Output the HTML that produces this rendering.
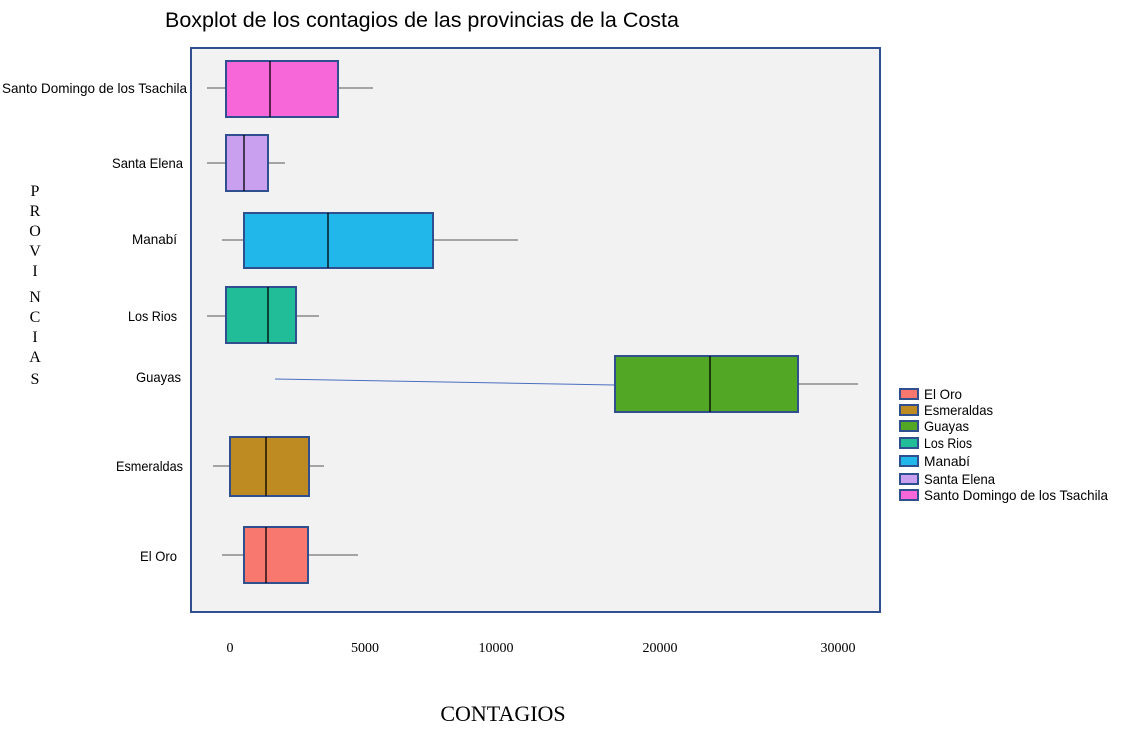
<!DOCTYPE html>
<html><head><meta charset="utf-8"><style>body{margin:0;background:#fff}svg{display:block}</style></head><body>
<svg width="1122" height="756" xmlns="http://www.w3.org/2000/svg">
<text x="422" y="27" text-anchor="middle" font-family="Liberation Sans, sans-serif" font-size="21" fill="#000" textLength="514" lengthAdjust="spacingAndGlyphs">Boxplot de los contagios de las provincias de la Costa</text>
<rect x="191" y="48" width="689" height="564" fill="#f2f2f2" stroke="#2f4f8f" stroke-width="2"/>
<g stroke="#555" stroke-width="1">
<line x1="207" y1="88" x2="226" y2="88"/><line x1="338" y1="88" x2="373" y2="88"/>
<line x1="207" y1="163" x2="226" y2="163"/><line x1="268" y1="163" x2="285" y2="163"/>
<line x1="222" y1="240" x2="244" y2="240"/><line x1="433" y1="240" x2="518" y2="240"/>
<line x1="207" y1="316" x2="226" y2="316"/><line x1="296" y1="316" x2="319" y2="316"/>
<line x1="798" y1="384" x2="858" y2="384"/>
<line x1="213" y1="466" x2="230" y2="466"/><line x1="309" y1="466" x2="324" y2="466"/>
<line x1="222" y1="555" x2="244" y2="555"/><line x1="308" y1="555" x2="358" y2="555"/>
</g>
<line x1="275" y1="379" x2="615" y2="385" stroke="#4a6fc0" stroke-width="1"/>
<g stroke="#2f4f8f" stroke-width="2">
<rect x="226" y="61" width="112" height="56" fill="#f767d9"/>
<rect x="226" y="135" width="42" height="56" fill="#c9a0f0"/>
<rect x="244" y="213" width="189" height="55" fill="#21b7eb"/>
<rect x="226" y="287" width="70" height="56" fill="#21bd98"/>
<rect x="615" y="356" width="183" height="56" fill="#52a824"/>
<rect x="230" y="437" width="79" height="59" fill="#bd8b22"/>
<rect x="244" y="527" width="64" height="56" fill="#f87870"/>
</g>
<g stroke="#000" stroke-width="1.3">
<line x1="270" y1="61" x2="270" y2="117"/><line x1="244" y1="135" x2="244" y2="191"/>
<line x1="328" y1="213" x2="328" y2="268"/><line x1="268" y1="287" x2="268" y2="343"/>
<line x1="710" y1="356" x2="710" y2="412"/><line x1="266" y1="437" x2="266" y2="496"/>
<line x1="266" y1="527" x2="266" y2="583"/>
</g>
<g font-family="Liberation Sans, sans-serif" font-size="14" fill="#000" lengthAdjust="spacingAndGlyphs">
<text x="2" y="93" textLength="185" lengthAdjust="spacingAndGlyphs">Santo Domingo de los Tsachila</text>
<text x="112" y="168" textLength="71" lengthAdjust="spacingAndGlyphs">Santa Elena</text>
<text x="132" y="244" textLength="45" lengthAdjust="spacingAndGlyphs">Manabí</text>
<text x="128" y="321" textLength="49" lengthAdjust="spacingAndGlyphs">Los Rios</text>
<text x="136" y="382" textLength="45" lengthAdjust="spacingAndGlyphs">Guayas</text>
<text x="116" y="471" textLength="67" lengthAdjust="spacingAndGlyphs">Esmeraldas</text>
<text x="140" y="561" textLength="37" lengthAdjust="spacingAndGlyphs">El Oro</text>
</g>
<g font-family="Liberation Serif, serif" font-size="14" text-anchor="middle" fill="#000">
<text x="230" y="652">0</text><text x="365" y="652">5000</text><text x="496" y="652">10000</text>
<text x="660" y="652">20000</text><text x="838" y="652">30000</text>
</g>
<text x="503" y="721" text-anchor="middle" font-family="Liberation Serif, serif" font-size="22">CONTAGIOS</text>
<g font-family="Liberation Serif, serif" font-size="16" text-anchor="middle">
<text x="35" y="196">P</text><text x="35" y="216">R</text><text x="35" y="236">O</text><text x="35" y="256">V</text><text x="35" y="276">I</text><text x="35" y="302">N</text><text x="35" y="322">C</text><text x="35" y="342">I</text><text x="35" y="362">A</text><text x="35" y="384">S</text>
</g>
<g stroke="#2f4f8f" stroke-width="2">
<rect x="900" y="389" width="18" height="10" fill="#f87870"/>
<rect x="900" y="405" width="18" height="10" fill="#bd8b22"/>
<rect x="900" y="421" width="18" height="10" fill="#52a824"/>
<rect x="900" y="438" width="18" height="10" fill="#21bd98"/>
<rect x="900" y="456" width="18" height="10" fill="#21b7eb"/>
<rect x="900" y="474" width="18" height="10" fill="#c9a0f0"/>
<rect x="900" y="490" width="18" height="10" fill="#f767d9"/>
</g>
<g font-family="Liberation Sans, sans-serif" font-size="14" fill="#000">
<text x="924" y="399" textLength="38" lengthAdjust="spacingAndGlyphs">El Oro</text>
<text x="924" y="415" textLength="69" lengthAdjust="spacingAndGlyphs">Esmeraldas</text>
<text x="924" y="431" textLength="45" lengthAdjust="spacingAndGlyphs">Guayas</text>
<text x="924" y="448" textLength="48" lengthAdjust="spacingAndGlyphs">Los Rios</text>
<text x="924" y="466" textLength="46" lengthAdjust="spacingAndGlyphs">Manabí</text>
<text x="924" y="484" textLength="71" lengthAdjust="spacingAndGlyphs">Santa Elena</text>
<text x="924" y="500" textLength="184" lengthAdjust="spacingAndGlyphs">Santo Domingo de los Tsachila</text>
</g>
</svg>
</body></html>
